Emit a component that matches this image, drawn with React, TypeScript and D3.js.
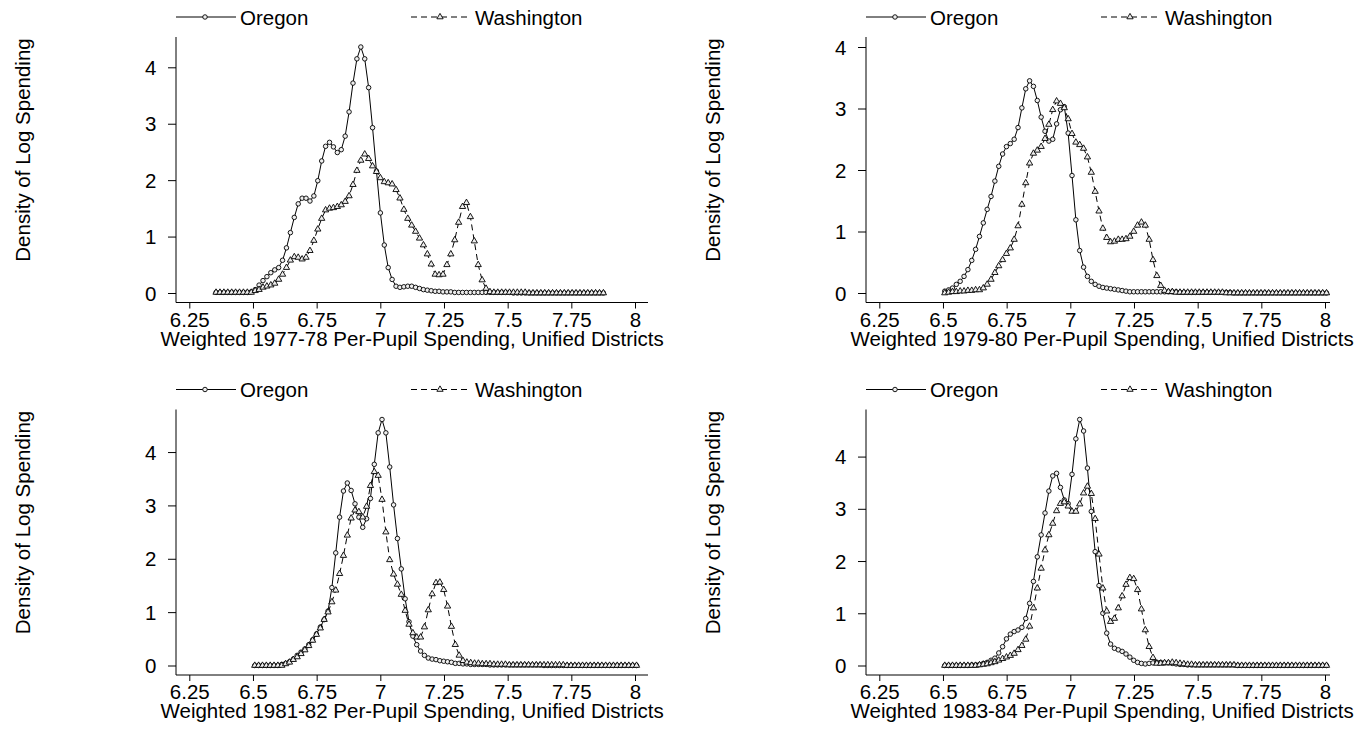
import React, { useEffect, useRef } from "react";
import * as d3 from "d3";

// kernel density of log spending, evaluated on an even grid per panel
const seriesNames = ["Oregon", "Washington"];
const panelTitles = [
  "Weighted 1977-78 Per-Pupil Spending, Unified Districts",
  "Weighted 1979-80 Per-Pupil Spending, Unified Districts",
  "Weighted 1981-82 Per-Pupil Spending, Unified Districts",
  "Weighted 1983-84 Per-Pupil Spending, Unified Districts",
];
const yTitle = "Density of Log Spending";
const gridStart = [6.355, 6.507, 6.507, 6.507];
const gridEnd = [7.876, 8.006, 8.006, 8.006];
const xTicks = [6.25, 6.5, 6.75, 7, 7.25, 7.5, 7.75, 8];
const xTickLabels = ["6.25", "6.5", "6.75", "7", "7.25", "7.5", "7.75", "8"];
const yTicks = [0, 1, 2, 3, 4];

const oregon7778 = [
  0.01, 0.01, 0.01, 0.01, 0.01, 0.01, 0.01, 0.01, 0.01, 0.02,
  0.06, 0.14, 0.22, 0.29, 0.36, 0.41, 0.45, 0.58, 0.8, 1.07,
  1.34, 1.58, 1.68, 1.68, 1.63, 1.72, 1.99, 2.34, 2.6, 2.67,
  2.59, 2.49, 2.54, 2.78, 3.21, 3.72, 4.15, 4.36, 4.15, 3.64,
  2.93, 2.16, 1.42, 0.85, 0.45, 0.24, 0.12, 0.1, 0.11, 0.12,
  0.12, 0.1, 0.08, 0.06, 0.05, 0.04, 0.03, 0.03, 0.02, 0.02,
  0.02, 0.01, 0.01, 0.01, 0.01, 0.01, 0.01, 0.01, 0.01, 0.01,
  0.01, 0.01, 0.01, 0.01, 0.01, 0.01, 0, 0, 0, 0,
  0, 0, 0, 0, 0, 0, 0, 0, 0, 0,
  0, 0, 0, 0, 0, 0, 0, 0, 0, 0,
];
const washington7778 = [
  0.01, 0.01, 0.01, 0.01, 0.01, 0.01, 0.01, 0.01, 0.01, 0.01,
  0.04, 0.06, 0.1, 0.12, 0.14, 0.17, 0.24, 0.33, 0.45, 0.58,
  0.64, 0.63, 0.6, 0.63, 0.75, 0.93, 1.13, 1.32, 1.47, 1.5,
  1.51, 1.53, 1.56, 1.62, 1.72, 1.92, 2.17, 2.35, 2.46, 2.38,
  2.25, 2.15, 2.04, 1.97, 1.95, 1.93, 1.83, 1.68, 1.48, 1.32,
  1.2, 1.09, 0.97, 0.85, 0.69, 0.51, 0.33, 0.32, 0.33, 0.5,
  0.69, 0.94, 1.25, 1.53, 1.6, 1.35, 0.92, 0.5, 0.23, 0.08,
  0.02, 0.01, 0.01, 0.01, 0.01, 0.01, 0.01, 0.01, 0.01, 0.01,
  0, 0, 0, 0, 0, 0, 0, 0, 0, 0,
  0, 0, 0, 0, 0, 0, 0, 0, 0, 0,
];
const oregon7980 = [
  0.03, 0.05, 0.08, 0.14, 0.19, 0.27, 0.38, 0.53, 0.71, 0.92,
  1.14, 1.36, 1.57, 1.82, 2.06, 2.26, 2.38, 2.43, 2.5, 2.69,
  3.01, 3.32, 3.45, 3.36, 3.13, 2.86, 2.63, 2.47, 2.5, 2.75,
  2.98, 3.03, 2.6, 1.91, 1.19, 0.69, 0.42, 0.27, 0.19, 0.14,
  0.11, 0.09, 0.08, 0.07, 0.06, 0.05, 0.04, 0.03, 0.02, 0.02,
  0.02, 0.02, 0.02, 0.02, 0.02, 0.02, 0.02, 0.02, 0.02, 0.02,
  0.02, 0.01, 0.01, 0.01, 0.01, 0.01, 0.01, 0.01, 0.01, 0.01,
  0.01, 0.01, 0.01, 0.01, 0.01, 0, 0, 0, 0, 0,
  0, 0, 0, 0, 0, 0, 0, 0, 0, 0,
  0, 0, 0, 0, 0, 0, 0, 0, 0, 0,
];
const washington7980 = [
  0, 0.01, 0.02, 0.02, 0.03, 0.03, 0.04, 0.04, 0.05, 0.05,
  0.08, 0.14, 0.22, 0.33, 0.44, 0.54, 0.64, 0.73, 0.87, 1.09,
  1.44, 1.79, 2.11, 2.27, 2.32, 2.38, 2.51, 2.74, 2.98, 3.12,
  3.08, 3.01, 2.83, 2.59, 2.45, 2.41, 2.35, 2.21, 1.96, 1.65,
  1.33, 1.05, 0.9, 0.83, 0.84, 0.87, 0.87, 0.88, 0.92, 1.0,
  1.1, 1.15, 1.1, 0.87, 0.54, 0.28, 0.12, 0.04, 0.02, 0.02,
  0.01, 0.01, 0.01, 0.01, 0.01, 0.01, 0.01, 0.01, 0.01, 0.01,
  0.01, 0.01, 0.01, 0, 0, 0, 0, 0, 0, 0,
  0, 0, 0, 0, 0, 0, 0, 0, 0, 0,
  0, 0, 0, 0, 0, 0, 0, 0, 0, 0,
];
const oregon8182 = [
  0, 0, 0, 0, 0, 0, 0, 0.02, 0.04, 0.07,
  0.12, 0.19, 0.25, 0.31, 0.39, 0.48, 0.59, 0.72, 0.86, 1.02,
  1.46, 2.11, 2.78, 3.27, 3.42, 3.28, 3.03, 2.78, 2.59, 2.75,
  3.13, 3.77, 4.36, 4.61, 4.36, 3.72, 3.01, 2.38, 1.81, 1.25,
  0.82, 0.55, 0.39, 0.27, 0.19, 0.14, 0.12, 0.11, 0.09, 0.08,
  0.07, 0.06, 0.04, 0.04, 0.03, 0.03, 0.02, 0.02, 0.02, 0.02,
  0.02, 0.01, 0.01, 0.01, 0.01, 0.01, 0.01, 0.01, 0.01, 0.01,
  0.01, 0.01, 0.01, 0.01, 0.01, 0, 0, 0, 0, 0,
  0, 0, 0, 0, 0, 0, 0, 0, 0, 0,
  0, 0, 0, 0, 0, 0, 0, 0, 0, 0,
];
const washington8182 = [
  0, 0, 0, 0, 0, 0, 0, 0, 0.03, 0.06,
  0.11, 0.16, 0.22, 0.29, 0.37, 0.47, 0.58, 0.7, 0.86, 1.0,
  1.19, 1.41, 1.72, 2.06, 2.44, 2.76, 2.91, 2.88, 2.78, 2.98,
  3.37, 3.63, 3.56, 3.11, 2.5, 1.98, 1.71, 1.52, 1.33, 1.03,
  0.77, 0.61, 0.53, 0.53, 0.72, 1.04, 1.34, 1.55, 1.56, 1.42,
  1.11, 0.73, 0.39, 0.19, 0.09, 0.06, 0.05, 0.04, 0.04, 0.03,
  0.03, 0.03, 0.02, 0.02, 0.02, 0.02, 0.01, 0.01, 0.01, 0.01,
  0.01, 0.01, 0.01, 0.01, 0.01, 0.01, 0.01, 0.01, 0.01, 0.01,
  0.01, 0, 0, 0, 0, 0, 0, 0, 0, 0,
  0, 0, 0, 0, 0, 0, 0, 0, 0, 0,
];
const oregon8384 = [
  0, 0, 0, 0, 0, 0, 0, 0.01, 0.01, 0.02,
  0.04, 0.06, 0.1, 0.14, 0.24, 0.36, 0.51, 0.6, 0.65, 0.68,
  0.73, 0.9, 1.19, 1.61, 2.08, 2.5, 2.92, 3.34, 3.63, 3.68,
  3.41, 3.17, 3.1, 3.66, 4.34, 4.71, 4.49, 3.78, 2.95, 2.18,
  1.53, 1.0, 0.62, 0.41, 0.33, 0.3, 0.27, 0.22, 0.16, 0.1,
  0.06, 0.04, 0.03, 0.04, 0.05, 0.06, 0.06, 0.05, 0.05, 0.04,
  0.03, 0.02, 0.02, 0.01, 0.01, 0.01, 0.01, 0.01, 0.01, 0.01,
  0.01, 0.01, 0.01, 0.01, 0.01, 0.01, 0, 0, 0, 0,
  0, 0, 0, 0, 0, 0, 0, 0, 0, 0,
  0, 0, 0, 0, 0, 0, 0, 0, 0, 0,
];
const washington8384 = [
  0, 0, 0, 0, 0, 0, 0, 0, 0, 0.01,
  0.02, 0.03, 0.05, 0.07, 0.1, 0.13, 0.16, 0.19, 0.23, 0.3,
  0.38, 0.5, 0.75, 1.1, 1.48, 1.86, 2.21, 2.5, 2.72, 2.96,
  3.1, 3.13, 3.05, 2.95, 2.95, 3.09, 3.3, 3.43, 3.29, 2.81,
  2.13, 1.48, 1.04, 0.84, 0.9, 1.1, 1.33, 1.55, 1.68, 1.66,
  1.45, 1.08, 0.68, 0.36, 0.15, 0.04, 0.04, 0.05, 0.05, 0.06,
  0.05, 0.04, 0.03, 0.02, 0.02, 0.01, 0.01, 0.01, 0.01, 0.01,
  0.01, 0.01, 0.01, 0.01, 0.01, 0.01, 0, 0, 0, 0,
  0, 0, 0, 0, 0, 0, 0, 0, 0, 0,
  0, 0, 0, 0, 0, 0, 0, 0, 0, 0,
];

const oregonDensity = [oregon7778, oregon7980, oregon8182, oregon8384];
const washingtonDensity = [washington7778, washington7980, washington8182, washington8384];

const FONT = "'Liberation Sans', Arial, Helvetica, sans-serif";
const FONT_SIZE = 20.5;

const App = () => {
  const svgRef = useRef<SVGSVGElement>(null);

  useEffect(() => {
    const svg = d3.select(svgRef.current);
    svg.selectAll("*").remove();

    const colShift = [0, 690];
    const rowShift = [0, 372.5];
    const axisRightEnd = [648, 640];
    const axisX = 176;
    const axisY = 302.5;

    const circle = d3.symbol().type(d3.symbolCircle).size(16)();
    const triangle = d3.symbol().type(d3.symbolTriangle).size(17)();

    panelTitles.forEach((title, p) => {
      const col = p % 2;
      const row = Math.floor(p / 2);
      const g = svg
        .append("g")
        .attr("transform", `translate(${colShift[col]},${rowShift[row]})`);

      const oregon = oregonDensity[p];
      const washington = washingtonDensity[p];
      const grid = d3.scaleLinear([0, oregon.length - 1], [gridStart[p], gridEnd[p]]);
      const x = d3.scaleLinear([6.25, 8], [189.3, 635]);
      const yMax = Math.max(4, d3.max(oregon.concat(washington)) as number);
      const y = d3.scaleLinear([0, yMax], [293, 47]);

      // axis lines
      g.append("line")
        .attr("x1", axisX).attr("x2", axisX)
        .attr("y1", 37).attr("y2", axisY)
        .attr("stroke", "#000");
      g.append("line")
        .attr("x1", axisX).attr("x2", axisRightEnd[col])
        .attr("y1", axisY).attr("y2", axisY)
        .attr("stroke", "#000");

      g.append("g")
        .attr("transform", `translate(0,${axisY})`)
        .call(
          d3.axisBottom(x)
            .tickValues(xTicks)
            .tickFormat((_, i) => xTickLabels[i])
            .tickSize(6)
            .tickSizeOuter(0)
        )
        .call((a) => a.select(".domain").remove())
        .attr("font-size", FONT_SIZE)
        .attr("font-family", FONT)
        .call((a) =>
          a.selectAll(".tick text").attr("y", 24).attr("dy", null).attr("fill", "#000")
        );

      g.append("g")
        .attr("transform", `translate(${axisX},0)`)
        .call(d3.axisLeft(y).tickValues(yTicks).tickFormat(d3.format("d")).tickSize(8).tickSizeOuter(0))
        .call((a) => a.select(".domain").remove())
        .attr("font-size", FONT_SIZE)
        .attr("font-family", FONT)
        .call((a) =>
          a.selectAll(".tick text").attr("x", -19.5).attr("dy", "0.35em").attr("fill", "#000")
        );

      const line = d3
        .line<number>()
        .x((_, i) => x(grid(i)))
        .y((d) => y(d));

      // Oregon: solid with hollow circles
      g.append("path")
        .attr("d", line(oregon))
        .attr("fill", "none")
        .attr("stroke", "#000")
        .attr("stroke-width", 1);
      g.append("g")
        .selectAll("path")
        .data(oregon)
        .join("path")
        .attr("transform", (d, i) => `translate(${x(grid(i))},${y(d)})`)
        .attr("d", circle)
        .attr("fill", "#eee")
        .attr("stroke", "#000")
        .attr("stroke-width", 0.9);

      // Washington: dashed with hollow triangles
      g.append("path")
        .attr("d", line(washington))
        .attr("fill", "none")
        .attr("stroke", "#000")
        .attr("stroke-width", 1)
        .attr("stroke-dasharray", "6 4");
      g.append("g")
        .selectAll("path")
        .data(washington)
        .join("path")
        .attr("transform", (d, i) => `translate(${x(grid(i))},${y(d)})`)
        .attr("d", triangle)
        .attr("fill", "#eee")
        .attr("stroke", "#000")
        .attr("stroke-width", 0.9);

      // titles
      g.append("text")
        .attr("x", (x(xTicks[0]) + x(xTicks[xTicks.length - 1])) / 2)
        .attr("y", 345.5)
        .attr("text-anchor", "middle")
        .attr("font-size", FONT_SIZE)
        .attr("font-family", FONT)
        .text(title);
      g.append("text")
        .attr("transform", "translate(30,150) rotate(-90)")
        .attr("text-anchor", "middle")
        .attr("font-size", FONT_SIZE)
        .attr("font-family", FONT)
        .text(yTitle);

      // legend
      const keys = [
        { start: axisX, sym: circle, dash: null },
        { start: axisX + 235, sym: triangle, dash: "6 4" },
      ];
      keys.forEach((k, j) => {
        g.append("line")
          .attr("x1", k.start).attr("x2", k.start + 60)
          .attr("y1", 17).attr("y2", 17)
          .attr("stroke", "#000")
          .attr("stroke-dasharray", k.dash);
        g.append("path")
          .attr("transform", `translate(${k.start + 29},17)`)
          .attr("d", k.sym)
          .attr("fill", "#eee")
          .attr("stroke", "#000")
          .attr("stroke-width", 0.9);
        g.append("text")
          .attr("x", k.start + 64)
          .attr("y", 24.5)
          .attr("font-size", FONT_SIZE)
          .attr("font-family", FONT)
          .text(seriesNames[j]);
      });
    });
  }, []);

  return (
    <svg
      ref={svgRef}
      width={1359}
      height={729}
      style={{ position: "absolute", left: 0, top: 0, background: "#fff" }}
    />
  );
};

export default App;
